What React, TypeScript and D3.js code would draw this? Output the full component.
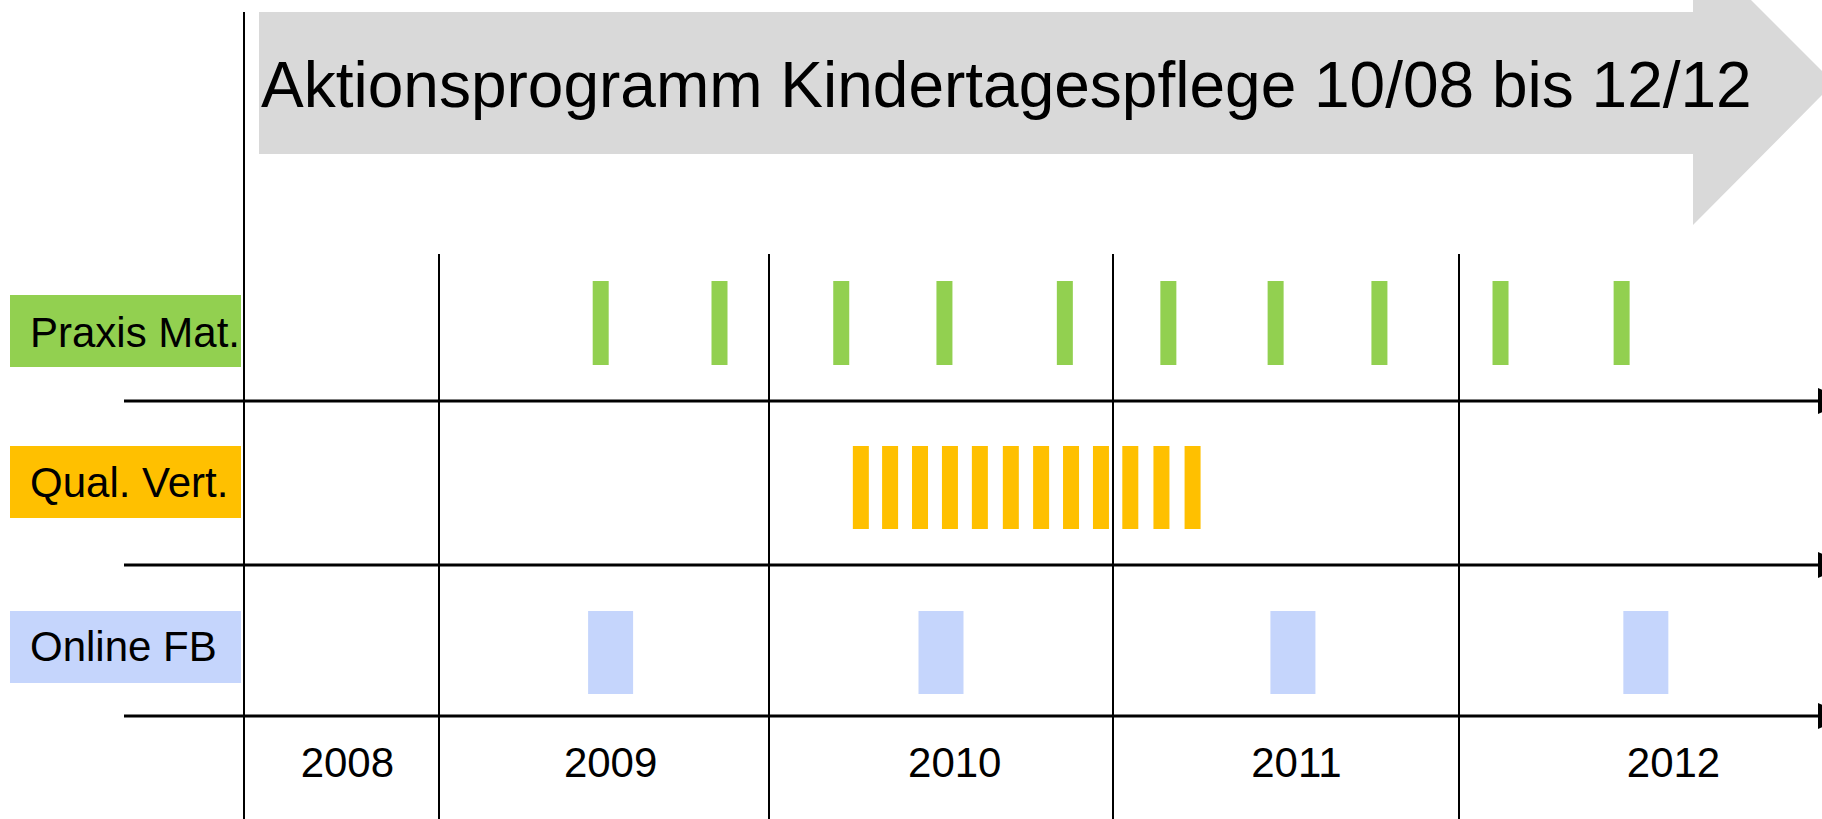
import React from 'react';
import * as d3 from 'd3';

const width = 1822;
const height = 819;

// year boundaries of the timeline (start of each year)
const years = [2008, 2009, 2010, 2011, 2012, 2013];
const yearLabels = ['2008', '2009', '2010', '2011', '2012'];
const yearLabelAt = [2008.53, 2009.52, 2010.54, 2011.53, 2012.62];

const rowNames = ['Praxis Mat.', 'Qual. Vert.', 'Online FB'];
const rowColors = ['#92d050', '#ffc000', '#c5d5fc'];

// event dates as decimal years (bar centres)
const praxisDates = [2009.49, 2009.85, 2010.21, 2010.51, 2010.86, 2011.16, 2011.47, 2011.77, 2012.12, 2012.47];
const qualDates = [
  2010.267, 2010.352, 2010.439, 2010.526, 2010.613, 2010.703,
  2010.791, 2010.878, 2010.965, 2011.05, 2011.14, 2011.23,
];
const onlineDates = [2009.52, 2010.5, 2011.52, 2012.54];

const title = 'Aktionsprogramm Kindertagespflege 10/08 bis 12/12';

// layout per row: label box, bars, axis line
const rowLayout = [
  { boxY: 295, barY: 281, barH: 84, barW: 16, axisY: 401, textY: 347 },
  { boxY: 446, barY: 446, barH: 83, barW: 16, axisY: 565, textY: 497 },
  { boxY: 611, barY: 611, barH: 83, barW: 45, axisY: 716, textY: 661 },
];
const rowData = [praxisDates, qualDates, onlineDates];

const font = "'Liberation Sans', Arial, sans-serif";

const App: React.FC = () => {
  const x = d3.scaleLinear().domain(years).range([244, 439, 769, 1113, 1459, 1805]);

  const arrowPath = d3.path();
  arrowPath.moveTo(259, 12);
  arrowPath.lineTo(1693, 12);
  arrowPath.lineTo(1693, -58);
  arrowPath.lineTo(1834, 83);
  arrowPath.lineTo(1693, 225);
  arrowPath.lineTo(1693, 154);
  arrowPath.lineTo(259, 154);
  arrowPath.closePath();

  return (
    <svg
      width={width}
      height={height}
      style={{ position: 'absolute', top: 0, left: 0, background: '#fff' }}
    >
      <path d={arrowPath.toString()} fill="#d9d9d9" />
      <text x={261} y={107} fontFamily={font} fontSize={64} fill="#000">
        {title}
      </text>

      {/* rows */}
      {rowNames.map((name, i) => {
        const l = rowLayout[i];
        return (
          <g key={name}>
            <rect x={10} y={l.boxY} width={231} height={72} fill={rowColors[i]} />
            <text x={30} y={l.textY} fontFamily={font} fontSize={42} fill="#000">
              {name}
            </text>
            {rowData[i].map((d, j) => (
              <rect
                key={j}
                x={x(d) - l.barW / 2}
                y={l.barY}
                width={l.barW}
                height={l.barH}
                fill={rowColors[i]}
              />
            ))}
          </g>
        );
      })}

      {/* grid lines */}
      <line x1={244} x2={244} y1={12} y2={height} stroke="#000" strokeWidth={2} />
      {years.slice(1, -1).map(y => (
        <line key={y} x1={x(y)} x2={x(y)} y1={254} y2={height} stroke="#000" strokeWidth={2} />
      ))}

      {/* time axes */}
      {rowLayout.map((l, i) => (
        <g key={i}>
          <line x1={124} x2={1818} y1={l.axisY} y2={l.axisY} stroke="#000" strokeWidth={3} />
          <path
            d={`M1818,${l.axisY - 13}L1846,${l.axisY}L1818,${l.axisY + 13}Z`}
            fill="#000"
          />
        </g>
      ))}

      {yearLabels.map((t, i) => (
        <text
          key={t}
          x={x(yearLabelAt[i])}
          y={777}
          textAnchor="middle"
          fontFamily={font}
          fontSize={42}
          fill="#000"
        >
          {t}
        </text>
      ))}
    </svg>
  );
};

export default App;
